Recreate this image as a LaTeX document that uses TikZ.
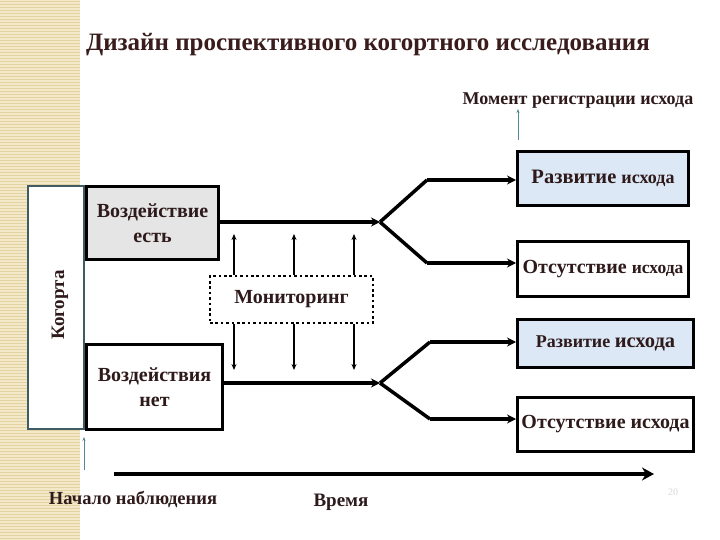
\documentclass[tikz,border=0pt]{standalone}
\usepackage{fontspec}
\setmainfont{Liberation Serif}
\usetikzlibrary{arrows.meta}
\definecolor{txt}{HTML}{2E1A1A}
\definecolor{ttl}{HTML}{3A1C1C}
\definecolor{beige}{HTML}{F3E8C8}
\definecolor{beigeline}{HTML}{E4D3A2}
\definecolor{lblue}{HTML}{DCE8F6}
\definecolor{cohortline}{HTML}{3F5C64}
\definecolor{tealline}{HTML}{4F8A96}
\tikzset{
  lbl/.style={text=txt, font=\bfseries, inner sep=0pt},
  stdbox/.style={draw=black, line width=3pt, anchor=north west, inner sep=1pt, align=center, text=txt, font=\bfseries},
  thickline/.style={line width=3.5pt, -{Stealth[length=9pt,width=9pt]}},
  branch/.style={line width=3.5pt, line join=miter},
  monarrow/.style={line width=1.6pt, -{Stealth[length=6pt,width=5pt]}},
  thinarrow/.style={draw=tealline, line width=0.9pt, -{Stealth[length=4pt,width=3pt]}}
}
\begin{document}
\begin{tikzpicture}[x=1pt,y=-1pt]
\useasboundingbox (0,0) rectangle (720,540);
\fill[white] (0,0) rectangle (720,540);
% left stripe
\fill[beige] (0,0) rectangle (80,540);
\foreach \yy in {1.5,4.5,...,540} {\draw[beigeline, line width=0.8pt] (0,\yy) -- (80,\yy);}
% title
\node[lbl, text=ttl, font=\bfseries\fontsize{25}{28}\selectfont] (title) at (368,45) {Дизайн проспективного когортного исследования};
\node[lbl, font=\bfseries\fontsize{18}{21}\selectfont] (moment) at (578,101) {Момент регистрации исхода};
\coordinate (mstart) at (518,140);
\draw[thinarrow] (mstart) -- (moment.south -| mstart);
% cohort box
\node[draw=cohortline, line width=1.8pt, fill=white, anchor=north west, minimum width=56pt, minimum height=243pt, inner sep=0pt] (cohort) at (27,185) {};
\node[lbl, rotate=90, font=\bfseries\fontsize{19}{22}\selectfont] (cohortlbl) at (60,305) {Когорта};
% exposure boxes
\node[stdbox, fill=gray!20, minimum width=132pt, minimum height=73pt, font=\bfseries\fontsize{20}{25}\selectfont] (exp) at (85,185) {Воздействие\\есть};
\node[stdbox, fill=white, minimum width=136pt, minimum height=85pt, font=\bfseries\fontsize{20}{25}\selectfont] (noexp) at (85,343) {Воздействия\\нет};
% monitoring
\node[draw=black, line width=2.6pt, dash pattern=on 2.6pt off 2.8pt, fill=white, minimum width=163pt, minimum height=47pt, text=txt, font=\bfseries\fontsize{20}{23}\selectfont] (mon) at (291.5,299.5) {Мониторинг};
\foreach \xx/\i in {234/1,294/2,354/3} {
  \coordinate (up\i) at (\xx,234);
  \coordinate (dn\i) at (\xx,370);
  \draw[monarrow] (mon.north -| up\i) -- (up\i);
  \draw[monarrow] (mon.south -| dn\i) -- (dn\i);
}
% outcome boxes
\node[stdbox, fill=lblue, minimum width=171pt, minimum height=54pt] (r1) at (516,150) {{\fontsize{20.5}{22}\selectfont Развитие }{\fontsize{18}{22}\selectfont исхода}};
\node[stdbox, fill=white, minimum width=171pt, minimum height=55pt] (a1) at (516,240) {{\fontsize{20}{22}\selectfont Отсутствие }{\fontsize{17.5}{22}\selectfont исхода}};
\node[stdbox, fill=lblue, minimum width=176pt, minimum height=48pt] (r2) at (516,318) {{\fontsize{18}{22}\selectfont Развитие }{\fontsize{20.5}{22}\selectfont исхода}};
\node[stdbox, fill=white, minimum width=176pt, minimum height=54pt] (a2) at (516,396) {{\fontsize{20}{22}\selectfont Отсутствие исхода}};
% forks
\coordinate (f1) at (380,222);
\coordinate (f1u) at (427,180);
\coordinate (f1d) at (427,263);
\draw[thickline] (exp.east |- f1) -- (f1);
\draw[branch] (f1) -- (f1u);
\draw[branch] (f1) -- (f1d);
\draw[thickline] (f1u) -- (f1u -| r1.west);
\draw[thickline] (f1d) -- (f1d -| a1.west);
\coordinate (f2) at (380,383);
\coordinate (f2u) at (430,342);
\coordinate (f2d) at (430,419);
\draw[thickline] (noexp.east |- f2) -- (f2);
\draw[branch] (f2) -- (f2u);
\draw[branch] (f2) -- (f2d);
\draw[thickline] (f2u) -- (f2u -| r2.west);
\draw[thickline] (f2d) -- (f2d -| a2.west);
% time axis
\coordinate (t0) at (114,474);
\coordinate (t1) at (654,474);
\draw[line width=4.5pt, -{Stealth[length=12pt,width=13pt]}] (t0) -- (t1);
\node[lbl, font=\bfseries\fontsize{18.5}{21}\selectfont] (start) at (133,499) {Начало наблюдения};
\node[lbl, font=\bfseries\fontsize{19}{21}\selectfont] (time) at (341,502) {Время};
\coordinate (s0) at (84,470);
\coordinate (s1) at (84,437);
\draw[thinarrow] (s0) -- (s1);
\node[text=gray!30, font=\fontsize{10}{12}\selectfont, inner sep=0pt] (page) at (673,492) {20};
\end{tikzpicture}
\end{document}
